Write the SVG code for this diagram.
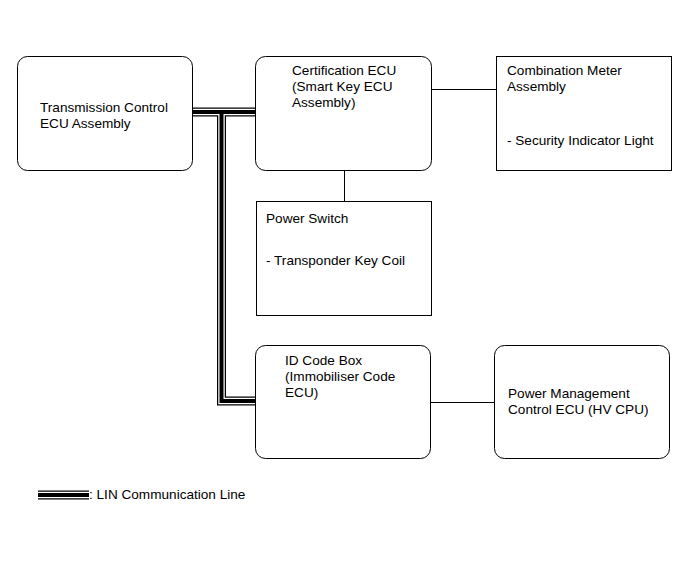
<svg xmlns="http://www.w3.org/2000/svg" width="690" height="564" viewBox="0 0 690 564">
<style>
.box{fill:#fff;stroke:#000;stroke-width:1}
text{font-family:"Liberation Sans",Arial,sans-serif;font-size:13.6px;fill:#000}
.ln{fill:none;stroke:#000;stroke-width:1}
.lo{fill:none;stroke:#000;stroke-width:9}
.lw{fill:none;stroke:#fff;stroke-width:6.5}
.lc{fill:none;stroke:#000;stroke-width:4}
</style>
<rect width="690" height="564" fill="#fff"/>
<g id="connectors">
<line class="ln" x1="432" y1="89.5" x2="496" y2="89.5"/>
<line class="ln" x1="344.5" y1="170" x2="344.5" y2="201"/>
<line class="ln" x1="430" y1="402.5" x2="494" y2="402.5"/>
<path class="lo" d="M192,112 H255 M221.5,112 V401 H255"/>
<path class="lw" d="M192,112 H255 M221.5,112 V401 H255"/>
<path class="lc" d="M192,112 H255 M221.5,112 V401 H255"/>
</g>
<g id="transmission">
<rect class="box" x="17.5" y="56.5" width="175" height="114" rx="10"/>
<text x="40" y="112">Transmission Control</text>
<text x="40" y="128">ECU Assembly</text>
</g>
<g id="certification">
<rect class="box" x="255.5" y="56.5" width="176" height="114" rx="10"/>
<text x="292" y="75">Certification ECU</text>
<text x="292" y="91">(Smart Key ECU</text>
<text x="292" y="107">Assembly)</text>
</g>
<g id="combination">
<rect class="box" x="496.5" y="56.5" width="175" height="114"/>
<text x="507" y="75">Combination Meter</text>
<text x="507" y="91">Assembly</text>
<text x="507" y="145">- Security Indicator Light</text>
</g>
<g id="powerswitch">
<rect class="box" x="256.5" y="201.5" width="175" height="114"/>
<text x="266" y="223">Power Switch</text>
<text x="266" y="265">- Transponder Key Coil</text>
</g>
<g id="idcode">
<rect class="box" x="255.5" y="345.5" width="175" height="113" rx="10"/>
<text x="285" y="365">ID Code Box</text>
<text x="285" y="381">(Immobiliser Code</text>
<text x="285" y="397">ECU)</text>
</g>
<g id="powermgmt">
<rect class="box" x="494.5" y="345.5" width="175" height="113" rx="10"/>
<text x="508" y="398">Power Management</text>
<text x="508" y="414">Control ECU (HV CPU)</text>
</g>
<g id="legend">
<path class="lo" d="M38,495 H89"/>
<path class="lw" d="M38,495 H89"/>
<path class="lc" d="M38,495 H89"/>
<text x="89" y="499">: LIN Communication Line</text>
</g>
</svg>
